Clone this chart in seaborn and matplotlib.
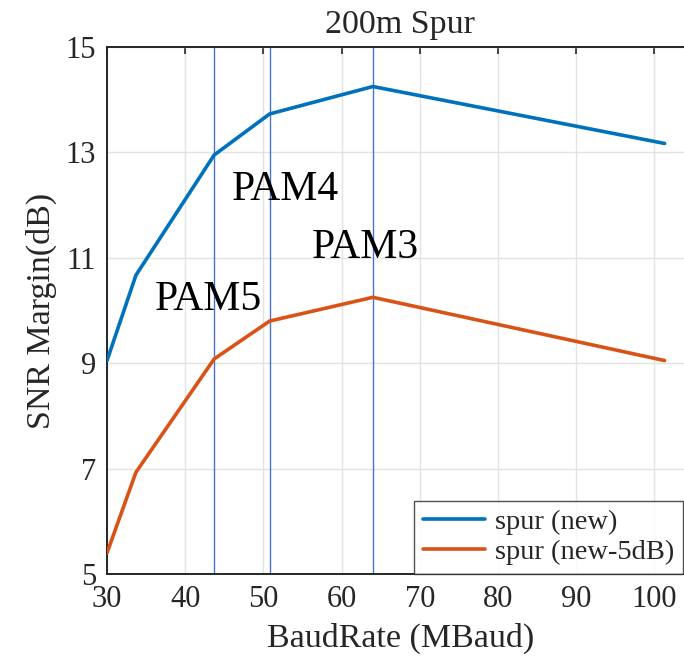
import numpy as np
import pandas as pd
import seaborn as sns
import matplotlib.pyplot as plt

# --- data ---
baud = [30, 33.7, 43.7, 50.8, 64, 101.3]
snr_new = [9.05, 10.67, 12.95, 13.73, 14.25, 13.17]
snr_new5 = [5.4, 6.93, 9.08, 9.8, 10.25, 9.05]
series_names = ["spur (new)", "spur (new-5dB)"]

pam_rates = [43.7, 50.8, 64]          # vertical markers
pam_labels = ["PAM5", "PAM4", "PAM3"]
pam_text_x = [36.1, 46.0, 56.2]
pam_text_y = [10.0, 12.1, 11.0]

xticks = [30, 40, 50, 60, 70, 80, 90, 100]
yticks = [5, 7, 9, 11, 13, 15]

df = pd.DataFrame({
    "BaudRate": baud * 2,
    "SNR": snr_new + snr_new5,
    "series": [series_names[0]] * len(baud) + [series_names[1]] * len(baud),
})

sns.set_style("white")
plt.rcParams["font.family"] = ["Liberation Serif", "DejaVu Serif"]

fig = plt.figure(figsize=(6.84, 6.61), dpi=100)
# axes run past the right edge of the figure (cropped like the original)
ax = fig.add_axes([107 / 684, 87 / 661, 586.5 / 684, 527 / 661])

# grid + PAM marker lines
ax.grid(True, color="#e3e3e3", linewidth=1.0)
for r in pam_rates:
    ax.axvline(r, color="#4a74c9", linewidth=1.0, zorder=1)

sns.lineplot(data=df, x="BaudRate", y="SNR", hue="series",
             palette=["#0072BD", "#D95319"], linewidth=2.6, ax=ax,
             sort=False, zorder=3)

for lab, tx, ty in zip(pam_labels, pam_text_x, pam_text_y):
    ax.text(tx, ty, lab, fontsize=30, ha="left", va="baseline", color="black")

ax.set_xlim(30, 105)
ax.set_ylim(5, 15)
ax.set_xticks(xticks)
ax.set_yticks(yticks)
ax.tick_params(direction="in", length=5, width=1.2, labelsize=22,
               top=True, right=True, colors="#262626", pad=8)
for s in ax.spines.values():
    s.set_color("#262626")
    s.set_linewidth(1.4)

ax.set_title("200m Spur", fontsize=24.5, pad=10)
ax.set_xlabel("BaudRate (MBaud)", fontsize=24.5, color="#262626", labelpad=6)
ax.set_ylabel("SNR Margin(dB)", fontsize=24.5, color="#262626", labelpad=6)

leg = ax.legend(loc="lower right", bbox_to_anchor=(683 / 684, 87 / 661),
                bbox_transform=fig.transFigure, fontsize=20.5, frameon=True,
                fancybox=False, edgecolor="#262626", borderaxespad=0,
                handlelength=2.2, handletextpad=0.35, borderpad=0.3,
                labelspacing=0.15)
leg.get_frame().set_linewidth(1.0)
leg.set_title(None)

fig.savefig("out.png", dpi=100)
